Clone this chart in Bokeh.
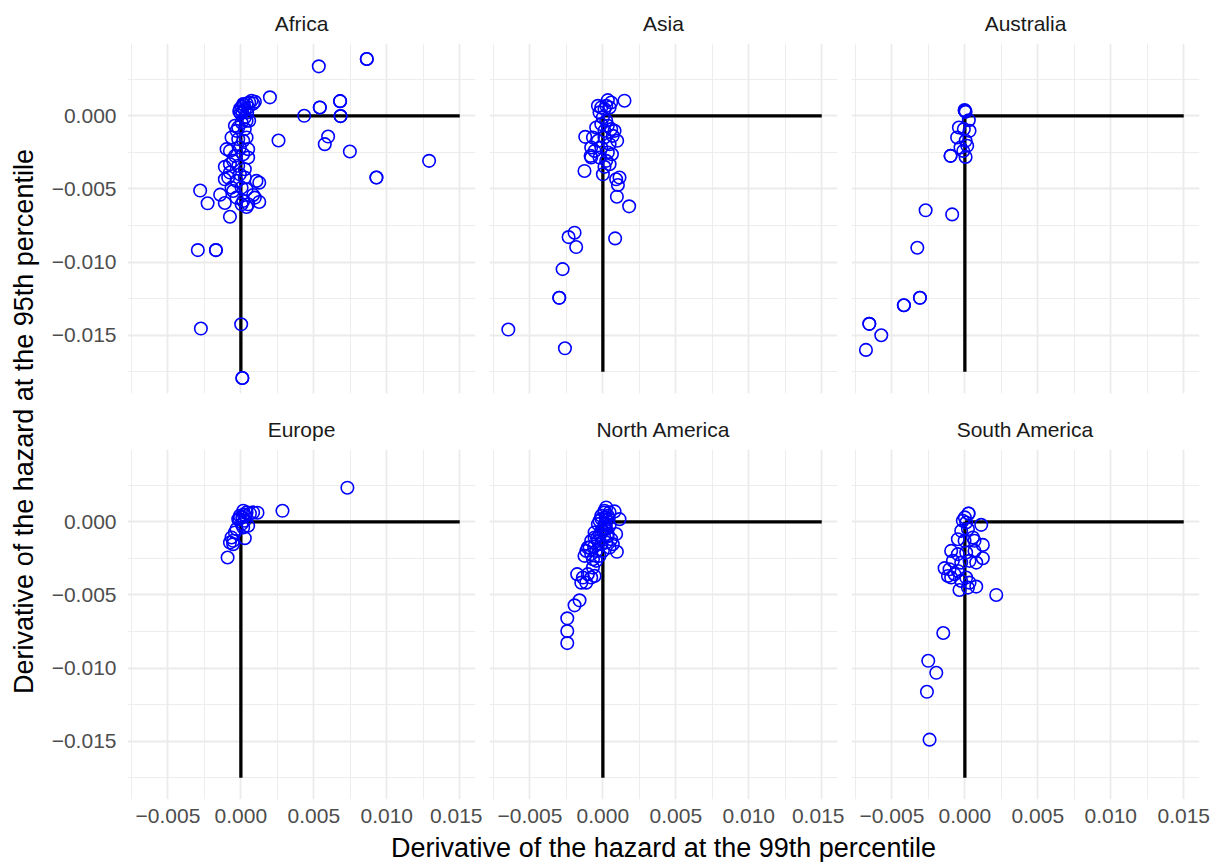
import math
from bokeh.plotting import figure
from bokeh.layouts import row, column
from bokeh.models import Range1d, FixedTicker, CustomJSTickFormatter, Label
from bokeh.embed import file_html
from bokeh.resources import INLINE

# ---------------- data ----------------
regions = ["Africa", "Asia", "Australia", "Europe", "North America", "South America"]

africa_x = [0.00863, 0.00863, 0.00534, 0.00199, 0.0068, 0.0068, 0.00541, 0.00541, 0.00434, 0.00683,
            0.00683, 0.00258, 0.00598, 0.00575, 0.00747, 0.0129, 0.00929, 0.00929, -0.00279, -0.00228,
            -0.00142, -0.0011, -0.00075, -0.00295, -0.00171, -0.00171, -0.00274, 0.00002, 0.0001, 0.0001,
            0.00096, 0.00073, 0.00057, 0.00039, 0.00021, 0.00007, -0.00007, -0.00011, -0.00002, 0.00016,
            0.00084, 0.0005, 0.00027, 0.00011, 0.00043, -0.00041, 0.00039, 0.00057, 0.00005, -0.0003,
            0.00027, -0.00064, 0.00039, -0.00018, 0.00016, -0.00098, 0.0005, -0.00075, -0.00041, 0.0005,
            0.00016, -0.00053, -0.00018, -0.0011, 0.00027, -0.00075, -0.00007, -0.0011, -0.00087, 0.00027,
            0.00107, 0.00126, -0.00064, 0.00005, 0.00039, 0.00084, 0.00096, -0.0003, 0.00126, 0.00005,
            0.00039, 0.0005, 0.00016, -0.00053, -0.0003, -0.00075, -0.00007, 0.00027, -0.00018]
africa_y = [0.00388, 0.00388, 0.00338, 0.00126, 0.001, 0.001, 0.00057, 0.00057, 0.0, -0.00002,
            -0.00002, -0.00169, -0.00142, -0.00194, -0.00244, -0.00308, -0.00422, -0.00422, -0.00511, -0.00598,
            -0.00539, -0.00596, -0.0069, -0.00918, -0.00918, -0.00918, -0.01454, -0.01425, -0.01792, -0.01792,
            0.00096, 0.00103, 0.00091, 0.00084, 0.00075, 0.00062, 0.00046, 0.0003, 0.00016, 0.0008,
            0.00084, 0.00057, 0.00039, 0.00023, 0.00023, -0.00068, -0.00034, -0.00034, -0.00046, -0.00103,
            -0.00091, -0.00148, -0.00148, -0.0016, -0.00171, -0.00228, -0.00228, -0.0024, -0.00274, -0.00285,
            -0.00263, -0.00308, -0.00342, -0.00349, -0.00365, -0.00388, -0.004, -0.00434, -0.00422, -0.00422,
            -0.00445, -0.00457, -0.00491, -0.00491, -0.00502, -0.00541, -0.00559, -0.00559, -0.00589, -0.00605,
            -0.00623, -0.00605, -0.00582, -0.00514, -0.00445, -0.00331, -0.00217, -0.00011, -0.0008]

asia_x = [0.00148, -0.00648, -0.0026, -0.00299, -0.00299, -0.00276, -0.00194, -0.00235, -0.00183, 0.00084,
          0.0018, 0.00096, 0.00103, 0.00114, 0.00091, -0.00126, -0.0008, -0.00084, -0.00121, 0.00011,
          0.0, 0.00098, 0.0008, -0.00034, 0.00034, 0.00057,
          -0.00011, 0.00011, 0.00023, 0.00046, -0.00023, 0.0, 0.00023, -0.00011, 0.00034, -0.00046,
          0.00057, -0.00068, -0.00034, 0.00011, 0.00046, -0.0008, -0.00011, 0.00034, 0.00062, -0.00057,
          -0.00023, 0.00023, 0.00046, 0.00068, 0.00011]
asia_y = [0.00103, -0.01461, -0.01589, -0.01244, -0.01244, -0.01048, -0.00799, -0.00829, -0.00897, -0.00838,
          -0.00619, -0.00553, -0.00473, -0.00422, -0.00434, -0.00377, -0.00285, -0.00274, -0.00144, -0.00349,
          -0.004, -0.00171, -0.00103, 0.00068, 0.00107, 0.00091,
          0.00057, 0.00046, 0.00068, 0.00057, 0.00023, -0.00011, -0.00034, -0.00057, -0.00068, -0.0008,
          -0.00091, -0.00148, -0.00171, -0.00148, -0.00194, -0.00217, -0.00217, -0.00251, -0.00263, -0.0024,
          -0.00285, -0.00308, -0.00331, -0.00137, -0.00103]

australia_x = [0.0, 0.0, -0.00002, 0.00005, 0.00027, -0.00041, 0.00032, -0.00007, -0.00053, 0.00005,
               0.00016, -0.0003, -0.00098, -0.00098, 0.00005, -0.00011, -0.00269, -0.00087, -0.00326, -0.00308,
               -0.00308, -0.00418, -0.00418, -0.00655, -0.00655, -0.00573, -0.00678]
australia_y = [0.00034, 0.00034, 0.00039, 0.00027, -0.0003, -0.0008, -0.00103, -0.00091, -0.00148, -0.00171,
               -0.00205, -0.00217, -0.00274, -0.00274, -0.00281, -0.0024, -0.00646, -0.00674, -0.00902, -0.01244,
               -0.01244, -0.01295, -0.01295, -0.01422, -0.01422, -0.015, -0.016]

europe_x = [0.0073, 0.00285, 0.00114, -0.00091, 0.00016, 0.00039, 0.00062, -0.00007, -0.00018, 0.00027,
            0.0005, 0.00016, -0.00041, -0.00064, -0.00053, -0.00075, 0.00027, 0.00005, -0.0003, -0.00053,
            0.00084, 0.0001, 0.0002, -0.0001, 0.0003]
europe_y = [0.00233, 0.00075, 0.00062, -0.00244, 0.00075, 0.00064, 0.00057, 0.00041, 0.00018, 0.00007,
            -0.00027, -0.00039, -0.00073, -0.00107, -0.0013, -0.00142, -0.00112, -0.00016, -0.0005, -0.00153,
            0.00064, 0.0003, 0.0005, 0.0002, 0.0004]

namerica_x = [-0.00244, -0.00244, -0.00244, -0.00194, -0.0016, -0.00176, -0.00148, -0.00114, -0.0008, -0.00057,
              -0.00103, -0.00068, -0.00137, 0.00023, 0.0008, 0.00114, 0.00091, 0.00096, -0.00126, -0.00103,
              0.00011, -0.00011, 0.00034, -0.00034, 0.00011, 0.00046, -0.00057, -0.00011, 0.00034, -0.0008,
              -0.00034, 0.00023, 0.00068, -0.00091, -0.00046, 0.0, 0.00046, -0.0008, -0.00023, -0.00046,
              0.00011, 0.00046, -0.00023, 0.00023, -0.00057, -0.00011, 0.00057, -0.00068, -0.00114,
              0.0002, 0.0001, -0.0002, -0.0004, 0.0003, -0.0006, 0.0, 0.0004, -0.0001, 0.0002]
namerica_y = [-0.0066, -0.00747, -0.00829, -0.00571, -0.00537, -0.00358, -0.00416, -0.00416, -0.00381, -0.0037,
              -0.00358, -0.00313, -0.00381, 0.00098, 0.00071, 0.00018, -0.00084, -0.00205, -0.00233, -0.00176,
              0.00064, 0.00041, 0.00041, -0.00016, -0.00016, -0.00027, -0.00073, -0.00062, -0.00084, -0.0013,
              -0.0013, -0.00142, -0.00153, -0.00176, -0.00199, -0.00199, -0.00176, -0.00221, -0.00233, -0.00267,
              0.00075, 0.00064, 0.00007, -0.0005, -0.00107, -0.00153, -0.00119, -0.00256, -0.00199,
              0.0003, -0.0004, -0.0009, -0.0011, -0.001, -0.0017, -0.0006, 0.0002, 0.0002, -0.0002]

samerica_x = [0.00215, -0.00148, -0.00251, -0.00196, -0.0026, -0.00242, 0.00025, 0.00025, 0.0, 0.00112,
              0.00123, 0.00123, 0.00078, 0.00021, -0.00037, -0.00139, -0.00116, -0.00071,
              -0.00025, 0.00021, -0.00048, -0.00002, 0.00055, -0.00094, -0.00048, 0.00009, 0.00066, -0.00082,
              -0.00025, 0.00032, 0.00078, -0.00105, -0.00048, 0.00009, 0.00032, -0.00094, -0.00025, -0.00014,
              0.00009, 0.00066]
samerica_y = [-0.005, -0.0076, -0.0095, -0.01032, -0.01162, -0.01489, 0.00057, 0.00057, 0.0003, -0.00021,
              -0.00158, -0.00249, -0.00443, -0.0045, -0.00466, -0.00317, -0.0037, -0.00358,
              -0.00062, -0.0005, -0.00119, -0.0013, -0.00107, -0.00199, -0.00221, -0.0021, -0.00199, -0.00267,
              -0.00279, -0.00267, -0.00279, -0.00324, -0.00336, -0.00381, -0.00416, -0.00381, -0.00404, 0.00007,
              -0.00005, -0.0013]

series_x = [africa_x, asia_x, australia_x, europe_x, namerica_x, samerica_x]
series_y = [africa_y, asia_y, australia_y, europe_y, namerica_y, samerica_y]

# reference segments (drawn in every panel)
seg_x0 = [0.0, 0.0]
seg_y0 = [0.0, 0.0]
seg_x1 = [0.015, 0.0]
seg_y1 = [0.0, -0.0175]

x_ticks = [-0.005, 0.0, 0.005, 0.010, 0.015]
x_minor = [-0.0075, -0.0025, 0.0025, 0.0075, 0.0125]
y_ticks = [-0.015, -0.010, -0.005, 0.0]
y_minor = [-0.0175, -0.0125, -0.0075, -0.0025, 0.0025]

x_label = "Derivative of the hazard at the 99th percentile"
y_label = "Derivative of the hazard at the 95th percentile"

# ---------------- styling ----------------
FONT = "Liberation Sans"
XR = (-0.00777, 0.01608)
YR = (-0.01898, 0.00494)
GRID = "#EBEBEB"
TICK_FS = "21px"
TITLE_FS = "27px"

fmt_code = "return (tick < 0 ? '\\u2212' : '') + Math.abs(tick).toFixed(3);"


def make_panel(idx):
    col = idx % 3
    r = idx // 3
    left = [87, 7, 7][col]
    right = [7, 7, 20][col]
    bottom = 13 if r == 0 else 33
    p = figure(frame_width=348, frame_height=350,
               min_border_left=left, min_border_right=right,
               min_border_top=43, min_border_bottom=bottom,
               x_range=Range1d(*XR), y_range=Range1d(*YR),
               x_axis_location="below" if r == 1 else None,
               y_axis_location="left" if col == 0 else None,
               toolbar_location=None, output_backend="svg",
               title=regions[idx])
    p.outline_line_color = None
    p.background_fill_color = "white"
    p.border_fill_color = "white"

    p.title.align = "center"
    p.title.text_font = FONT
    p.title.text_font_size = TICK_FS
    p.title.text_font_style = "normal"
    p.title.text_color = "#1A1A1A"
    p.title.standoff = 17

    xt = FixedTicker(ticks=x_ticks, minor_ticks=x_minor)
    yt = FixedTicker(ticks=y_ticks, minor_ticks=y_minor)
    p.xgrid.ticker = xt
    p.ygrid.ticker = yt
    for g in (p.xgrid, p.ygrid):
        g.grid_line_color = GRID
        g.grid_line_width = 1.8
        g.minor_grid_line_color = GRID
        g.minor_grid_line_width = 0.9

    for ax in p.xaxis:
        ax.ticker = xt
        ax.major_label_standoff = 9
    for ax in p.yaxis:
        ax.ticker = yt
        ax.major_label_standoff = 11
    for ax in list(p.xaxis) + list(p.yaxis):
        ax.formatter = CustomJSTickFormatter(code=fmt_code)
        ax.axis_line_color = None
        ax.major_tick_line_color = None
        ax.minor_tick_line_color = None
        ax.major_tick_out = 0
        ax.major_tick_in = 0
        ax.minor_tick_out = 0
        ax.minor_tick_in = 0
        ax.major_label_text_font = FONT
        ax.major_label_text_font_size = TICK_FS
        ax.major_label_text_color = "#4D4D4D"

    p.segment(x0=seg_x0, y0=seg_y0, x1=seg_x1, y1=seg_y1,
              line_color="black", line_width=3.3)
    p.scatter(x=series_x[idx], y=series_y[idx], marker="circle", size=12.5,
              fill_color=None, line_color="#0000FF", line_width=1.6)
    return p


panels = [make_panel(i) for i in range(6)]

# y-axis title strip
ylab = figure(width=40, height=832, x_range=Range1d(0, 40), y_range=Range1d(0, 832),
              min_border=0, x_axis_location=None, y_axis_location=None,
              toolbar_location=None, output_backend="svg")
ylab.grid.visible = False
ylab.outline_line_color = None
ylab.add_layout(Label(x=23, y=411, text=y_label, angle=math.pi / 2,
                      text_align="center", text_baseline="middle",
                      text_font=FONT, text_font_size=TITLE_FS, text_color="black"))

# x-axis title strip
xlab = figure(width=1219, height=30, x_range=Range1d(0, 1219), y_range=Range1d(0, 30),
              min_border=0, x_axis_location=None, y_axis_location=None,
              toolbar_location=None, output_backend="svg")
xlab.grid.visible = False
xlab.outline_line_color = None
xlab.add_layout(Label(x=663, y=15, text=x_label,
                      text_align="center", text_baseline="middle",
                      text_font=FONT, text_font_size=TITLE_FS, text_color="black"))

grid = column(row(*panels[:3]), row(*panels[3:]))
page = column(row(ylab, grid), xlab)

open("out.html", "w").write(file_html(page, INLINE))
